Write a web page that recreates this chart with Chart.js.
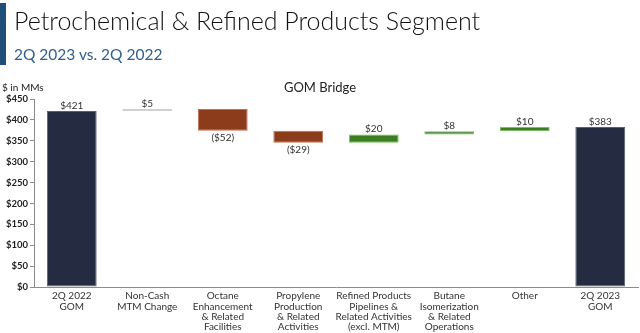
<!DOCTYPE html>
<html><head><meta charset="utf-8">
<script src="https://cdn.jsdelivr.net/npm/chart.js@4.4.0/dist/chart.umd.min.js"></script>
<style>
html,body{margin:0;padding:0;background:#fff;width:640px;height:333px;overflow:hidden;font-family:Lato,sans-serif;}
#wrap{position:relative;width:640px;height:333px;}
#bar{position:absolute;left:0;top:3px;width:6px;height:62px;background:#1f4e79;}
#t1{position:absolute;left:14px;top:1.5px;font-size:25px;line-height:36px;font-weight:300;color:#111;white-space:nowrap;}
#t2{position:absolute;left:14px;top:43px;font-size:15.5px;line-height:22px;font-weight:400;color:#2e5f8f;white-space:nowrap;}
#t3{position:absolute;left:0;width:640px;top:79px;text-align:center;font-size:13px;color:#222;}
#t4{position:absolute;left:2px;top:81px;font-size:10px;color:#222;}
canvas{position:absolute;left:0;top:0;}
</style></head><body>
<div id="wrap">
<canvas id="c" width="640" height="333"></canvas>
<div id="bar"></div>
<div id="t1">Petrochemical &amp; Refined Products Segment</div>
<div id="t2">2Q 2023 vs. 2Q 2022</div>
<div id="t3">GOM Bridge</div>
<div id="t4">$ in MMs</div>
</div>
<script>
const categories = [
  ["2Q 2022","GOM"],
  ["Non-Cash","MTM Change"],
  ["Octane","Enhancement","& Related","Facilities"],
  ["Propylene","Production","& Related","Activities"],
  ["Refined Products","Pipelines &","Related Activities","(excl. MTM)"],
  ["Butane","Isomerization","& Related","Operations"],
  ["Other"],
  ["2Q 2023","GOM"]
];
const startValue = 421;
const changes = [5, -52, -29, 20, 8, 10];
const endValue = 383;
const labels = ["$421","$5","($52)","($29)","$20","$8","$10","$383"];
const yTicks = [0,50,100,150,200,250,300,350,400,450];

// build floating ranges
const ranges = [[0,startValue]];
let run = startValue;
changes.forEach(c => { ranges.push([run, run + c]); run += c; });
ranges.push([0,endValue]);
const kinds = ["total","gray","neg","neg","pos","pos","pos","total"];
const fill = {total:"#252b40", gray:"#bfbfbf", neg:"#8c3b1b", pos:"#3b7d23"};
const edge = {total:"#5a6070", gray:"#d0d0d0", neg:"#c07050", pos:"#7dc05a"};

const labelPlugin = {
  id:"vals",
  afterDatasetsDraw(chart){
    const ctx = chart.ctx;
    const meta = chart.getDatasetMeta(0);
    ctx.save();
    ctx.font = "10px Lato, sans-serif";
    ctx.fillStyle = "#333";
    ctx.textAlign = "center";
    meta.data.forEach((el,i) => {
      const top = Math.min(el.y, el.base);
      const bot = Math.max(el.y, el.base);
      if (kinds[i] === "neg") {
        ctx.textBaseline = "top";
        ctx.fillText(labels[i], el.x, bot + 2);
      } else {
        ctx.textBaseline = "bottom";
        ctx.fillText(labels[i], el.x, top - 0.5);
      }
    });
    ctx.restore();
  }
};

new Chart(document.getElementById("c"), {
  type:"bar",
  data:{
    labels: categories,
    datasets:[{
      data: ranges,
      backgroundColor: kinds.map(k=>fill[k]),
      borderColor: kinds.map(k=>edge[k]),
      borderWidth: 1,
      borderSkipped: false,
      categoryPercentage: 1,
      barPercentage: 0.66,
      minBarLength: 2
    }]
  },
  options:{
    responsive:false,
    animation:false,
    layout:{padding:{top:99,right:2,left:0,bottom:0}},
    plugins:{legend:{display:false},tooltip:{enabled:false},title:{display:false}},
    scales:{
      x:{
        grid:{display:false,drawTicks:false},
        border:{display:true,color:"#8c8c8c",width:1},
        ticks:{color:"#333",font:{family:"Lato, sans-serif",size:10,lineHeight:1.03},padding:4,maxRotation:0,autoSkip:false},
        afterFit(s){ s.height = 46; }
      },
      y:{
        min:0,max:450,
        afterBuildTicks(s){ s.ticks = yTicks.map(v=>({value:v})); },
        grid:{display:true,drawOnChartArea:false,drawTicks:true,tickLength:4,color:"#8c8c8c"},
        border:{display:true,color:"#8c8c8c",width:1},
        ticks:{color:"#222",font:{family:"Lato, sans-serif",size:9.5,weight:"bold"},padding:2,callback:v=>"$"+v},
        afterFit(s){ s.width = 34; }
      }
    }
  },
  plugins:[labelPlugin]
});
</script>
</body></html>
